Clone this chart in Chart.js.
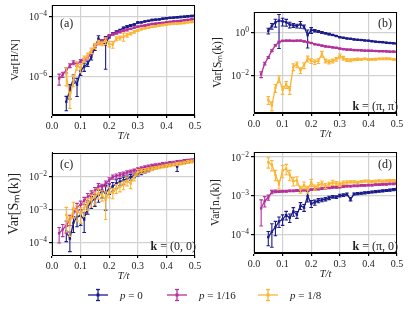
<!DOCTYPE html>
<html>
<head>
<meta charset="utf-8">
<script src="https://cdn.jsdelivr.net/npm/chart.js@4.4.0/dist/chart.umd.min.js"></script>
<style>
    body { margin: 0; background: #fff; width: 415px; height: 311px; overflow: hidden; position: relative; font-family: "Liberation Serif", serif; }
    canvas { position: absolute; }
    .leg { position: absolute; top: 288px; height: 14px; display: flex; align-items: center; font-size: 11px; color: #222; }
    .leg svg { margin-right: 12px; }
</style>
</head>
<body>
<canvas id="chartA" width="207" height="145" style="left:0;top:0"></canvas>
<canvas id="chartB" width="208" height="145" style="left:207px;top:0"></canvas>
<canvas id="chartC" width="207" height="145" style="left:0;top:140px"></canvas>
<canvas id="chartD" width="208" height="145" style="left:207px;top:140px"></canvas>

<div class="leg" style="left:88px">
    <svg width="20" height="14"><g stroke="#1b1b8a" stroke-width="1.3"><line x1="0" y1="7" x2="20" y2="7"/><line x1="10" y1="1.5" x2="10" y2="12.5"/><line x1="8" y1="1.5" x2="12" y2="1.5"/><line x1="8" y1="12.5" x2="12" y2="12.5"/></g><rect x="8.5" y="5.5" width="3" height="3" fill="#1b1b8a"/></svg>
    <span><i>p</i> = 0</span>
</div>
<div class="leg" style="left:167px">
    <svg width="20" height="14"><g stroke="#b4309b" stroke-width="1.3"><line x1="0" y1="7" x2="20" y2="7"/><line x1="10" y1="1.5" x2="10" y2="12.5"/><line x1="8" y1="1.5" x2="12" y2="1.5"/><line x1="8" y1="12.5" x2="12" y2="12.5"/></g><rect x="8.5" y="5.5" width="3" height="3" fill="#b4309b"/></svg>
    <span><i>p</i> = 1/16</span>
</div>
<div class="leg" style="left:258px">
    <svg width="20" height="14"><g stroke="#fbb535" stroke-width="1.3"><line x1="0" y1="7" x2="20" y2="7"/><line x1="10" y1="1.5" x2="10" y2="12.5"/><line x1="8" y1="1.5" x2="12" y2="1.5"/><line x1="8" y1="12.5" x2="12" y2="12.5"/></g><rect x="8.5" y="5.5" width="3" height="3" fill="#fbb535"/></svg>
    <span><i>p</i> = 1/8</span>
</div>

<script>
// temperatures T/t
const T = [0.025, 0.0375, 0.05, 0.0625, 0.075, 0.0875, 0.1, 0.1125, 0.125, 0.1375, 0.15, 0.1625, 0.175, 0.1875, 0.2, 0.2125, 0.225, 0.2375, 0.25, 0.2625, 0.275, 0.2875, 0.3, 0.3125, 0.325, 0.3375, 0.35, 0.3625, 0.375, 0.3875, 0.4, 0.4125, 0.425, 0.4375, 0.45, 0.4625, 0.475, 0.4875, 0.5];
const seriesNames = ["p = 0", "p = 1/16", "p = 1/8"];
const xTicks = [0, 0.1, 0.2, 0.3, 0.4, 0.5];

// (a) Var[H/N]
const aBlue = [null, null, 1.5e-7, 3.7e-7, 8.9e-7, 5.6e-7, 1.6e-6, 2.2e-6, 2.8e-6, 4.6e-6, 9.5e-6, 1.9e-5, 1.5e-5, 1.2e-5, 2.2e-5, 2.8e-5, 3.2e-5, 3.6e-5, 4.3e-5, 4.8e-5, 5.2e-5, 5.6e-5, 6.5e-5, 6.6e-5, 7.1e-5, 7.4e-5, 7.9e-5, 8.1e-5, 8.3e-5, 8.7e-5, 9.1e-5, 9.3e-5, 9.5e-5, 9.8e-5, 1.0e-4, 1.02e-4, 1.05e-4, 1.07e-4, 1.1e-4];
const aBlueErr = [0, 0, 0.5, 0.5, 0.3, 0.6, 0.3, 0.3, 0.2, 0.2, 0.2, 0.25, 0.15, 0.85, 0.1, 0.08, 0.08, 0.08, 0.08, 0.08, 0.08, 0.05, 0.05, 0.05, 0.05, 0.05, 0.05, 0.05, 0.05, 0.05, 0.05, 0.05, 0.05, 0.05, 0.05, 0.05, 0.05, 0.05, 0.05];
const aMag = [8.9e-7, 1.2e-6, 1.7e-6, 2.4e-6, 3.0e-6, 2.7e-6, 3.4e-6, 3.8e-6, 4.4e-6, 6.3e-6, 1.05e-5, 1.3e-5, 1.6e-5, 1.9e-5, 2.4e-5, 2.7e-5, 2.9e-5, 3.2e-5, 3.5e-5, 3.7e-5, 4.0e-5, 4.4e-5, 4.7e-5, 5.0e-5, 5.2e-5, 5.5e-5, 5.8e-5, 6.0e-5, 6.2e-5, 6.3e-5, 6.6e-5, 6.8e-5, 7.1e-5, 7.2e-5, 7.4e-5, 7.8e-5, 7.9e-5, 8.3e-5, 8.5e-5];
const aMagErr = [0.4, 0.2, 0.2, 0.15, 0.15, 0.15, 0.12, 0.1, 0.1, 0.1, 0.08, 0.08, 0.08, 0.08, 0.08, 0.08, 0.08, 0.08, 0.08, 0.08, 0.05, 0.05, 0.05, 0.05, 0.05, 0.05, 0.05, 0.05, 0.05, 0.05, 0.05, 0.05, 0.05, 0.05, 0.05, 0.05, 0.05, 0.05, 0.05];
const aYel = [null, null, 1.26e-6, 2.0e-7, 7.9e-7, 2.4e-6, 2.0e-6, 4.0e-6, 5.2e-6, 7.6e-6, 1.1e-5, 1.45e-5, 1.3e-5, 1.6e-5, 1.26e-5, 1.2e-5, 1.9e-5, 2.0e-5, 2.2e-5, 2.5e-5, 2.8e-5, 3.2e-5, 3.6e-5, 3.9e-5, 4.2e-5, 4.4e-5, 4.7e-5, 4.9e-5, 5.1e-5, 5.4e-5, 5.6e-5, 5.8e-5, 5.9e-5, 6.0e-5, 6.2e-5, 6.3e-5, 6.6e-5, 6.8e-5, 6.9e-5];
const aYelErr = [0, 0, 0.6, 0.55, 0.4, 0.3, 0.3, 0.25, 0.2, 0.2, 0.2, 0.15, 0.15, 0.25, 0.2, 0.25, 0.15, 0.15, 0.3, 0.15, 0.1, 0.1, 0.08, 0.05, 0.05, 0.05, 0.05, 0.05, 0.05, 0.05, 0.05, 0.05, 0.05, 0.05, 0.05, 0.05, 0.05, 0.05, 0.05];
const aTicks = [1e-6, 1e-4];

// (b) Var[S_m(k)], k = (pi, pi)
const bBlue = [null, null, 1.2, 2.0, 2.95, 3.55, 3.3, 3.0, 2.3, 2.15, 2.0, 2.4, 1.86, 0.74, 1.29, 1.2, 1.12, 1.0, 0.91, 0.83, 0.76, 0.68, 0.6, 0.56, 0.52, 0.5, 0.47, 0.45, 0.44, 0.42, 0.41, 0.39, 0.37, 0.355, 0.35, 0.33, 0.32, 0.31, 0.3];
const bBlueErr = [0, 0, 0.3, 0.3, 0.4, 0.95, 0.4, 0.35, 0.3, 0.2, 0.2, 0.35, 0.2, 0.75, 0.3, 0.12, 0.1, 0.1, 0.08, 0.08, 0.05, 0.05, 0.05, 0.05, 0.05, 0.05, 0.05, 0.05, 0.05, 0.05, 0.05, 0.05, 0.05, 0.05, 0.05, 0.05, 0.05, 0.05, 0.05];
const bMag = [0.011, 0.035, 0.068, 0.14, 0.25, 0.355, 0.4, 0.41, 0.41, 0.4, 0.41, 0.41, 0.38, 0.35, 0.32, 0.28, 0.26, 0.24, 0.22, 0.21, 0.2, 0.19, 0.175, 0.166, 0.158, 0.155, 0.15, 0.148, 0.145, 0.14, 0.14, 0.138, 0.135, 0.132, 0.132, 0.129, 0.126, 0.126, 0.123];
const bMagErr = [0.3, 0.15, 0.1, 0.1, 0.08, 0.08, 0.06, 0.06, 0.06, 0.06, 0.06, 0.06, 0.06, 0.06, 0.06, 0.06, 0.06, 0.06, 0.06, 0.06, 0.06, 0.06, 0.06, 0.06, 0.06, 0.06, 0.06, 0.06, 0.06, 0.06, 0.06, 0.06, 0.06, 0.06, 0.06, 0.06, 0.06, 0.06, 0.06];
const bYel = [null, null, 7.1e-4, 3.9e-4, 2.6e-3, 6.9e-3, 2.1e-3, 3.7e-3, 2.1e-3, 0.025, 0.032, 0.017, 0.029, 0.06, 0.047, 0.042, 0.047, 0.1, 0.047, 0.042, 0.047, 0.056, 0.078, 0.063, 0.052, 0.05, 0.054, 0.056, 0.055, 0.058, 0.054, 0.055, 0.056, 0.058, 0.058, 0.059, 0.058, 0.055, 0.054];
const bYelErr = [0, 0, 0.4, 0.45, 0.4, 0.35, 0.4, 0.35, 0.4, 0.35, 0.3, 0.3, 0.3, 0.3, 0.25, 0.25, 0.25, 0.3, 0.2, 0.2, 0.2, 0.2, 0.25, 0.2, 0.15, 0.15, 0.12, 0.12, 0.1, 0.1, 0.1, 0.1, 0.1, 0.1, 0.1, 0.1, 0.1, 0.1, 0.1];
const bTicks = [1e-2, 1];

// (c) Var[S_m(k)], k = (0, 0)
const cBlue = [null, null, 2.1e-4, 1.3e-4, 4.0e-4, 6.0e-4, 6.6e-4, 5.0e-4, 1.2e-3, 1.8e-3, 2.1e-3, 2.8e-3, 3.8e-3, 3.2e-3, 4.5e-3, 5.2e-3, 6.3e-3, 7.2e-3, 7.9e-3, 8.9e-3, 1.0e-2, 1.12e-2, 1.26e-2, 1.38e-2, 1.51e-2, 1.66e-2, 1.82e-2, 1.95e-2, 2.1e-2, 2.2e-2, 2.3e-2, 2.45e-2, 2.5e-2, 2.1e-2, 2.75e-2, 2.9e-2, 3.0e-2, 3.16e-2, 3.3e-2];
const cBlueErr = [0, 0, 0.5, 0.6, 0.5, 0.5, 0.5, 0.6, 0.4, 0.4, 0.4, 0.4, 0.4, 0.7, 0.35, 0.3, 0.3, 0.25, 0.25, 0.2, 0.2, 0.15, 0.15, 0.15, 0.12, 0.12, 0.1, 0.1, 0.1, 0.1, 0.1, 0.1, 0.1, 0.3, 0.1, 0.1, 0.1, 0.1, 0.1];
const cMag = [1.9e-4, 2.5e-4, 3.2e-4, 5.0e-4, 7.9e-4, 1.2e-3, 1.4e-3, 1.9e-3, 2.5e-3, 3.0e-3, 3.8e-3, 5.2e-3, 5.0e-3, 6.3e-3, 7.9e-3, 1.0e-2, 1.07e-2, 1.17e-2, 1.26e-2, 1.38e-2, 1.48e-2, 1.58e-2, 1.74e-2, 1.86e-2, 2.0e-2, 2.1e-2, 2.2e-2, 2.3e-2, 2.4e-2, 2.5e-2, 2.57e-2, 2.7e-2, 2.75e-2, 2.9e-2, 2.95e-2, 3.1e-2, 3.16e-2, 3.2e-2, 3.3e-2];
const cMagErr = [0.5, 0.4, 0.4, 0.35, 0.3, 0.3, 0.3, 0.25, 0.25, 0.25, 0.25, 0.2, 0.2, 0.2, 0.2, 0.15, 0.15, 0.15, 0.12, 0.12, 0.1, 0.1, 0.1, 0.1, 0.1, 0.1, 0.1, 0.1, 0.1, 0.1, 0.1, 0.1, 0.1, 0.1, 0.1, 0.1, 0.1, 0.1, 0.1];
const cYel = [null, null, 6.9e-4, 3.8e-4, 1.12e-3, 8.9e-4, 7.6e-4, 1.12e-3, 1.58e-3, 2.0e-3, 2.5e-3, 3.2e-3, 2.8e-3, 2.0e-3, 3.5e-3, 3.3e-3, 4.5e-3, 5.0e-3, 5.8e-3, 7.6e-3, 6.3e-3, 1.0e-2, 1.41e-2, 1.51e-2, 1.58e-2, 1.7e-2, 1.78e-2, 1.9e-2, 2.0e-2, 2.1e-2, 2.2e-2, 2.3e-2, 2.4e-2, 2.5e-2, 2.6e-2, 2.75e-2, 2.9e-2, 3.0e-2, 3.16e-2];
const cYelErr = [0, 0, 0.7, 0.6, 0.5, 0.5, 0.5, 0.45, 0.4, 0.4, 0.4, 0.35, 0.35, 0.75, 0.35, 0.35, 0.3, 0.3, 0.3, 0.3, 0.3, 0.25, 0.2, 0.15, 0.15, 0.12, 0.12, 0.1, 0.1, 0.1, 0.1, 0.1, 0.1, 0.1, 0.1, 0.1, 0.1, 0.1, 0.1];
const cTicks = [1e-4, 1e-3, 1e-2];

// (d) Var[n_+(k)], k = (pi, 0)
const dBlue = [null, null, 8.7e-5, 1.2e-4, 1.58e-4, 2.2e-4, 2.5e-4, 3.2e-4, 2.75e-4, 4.0e-4, 3.3e-4, 5.6e-4, 5.0e-4, 1.0e-3, 6.3e-4, 6.8e-4, 7.6e-4, 7.9e-4, 8.3e-4, 8.9e-4, 9.5e-4, 9.3e-4, 1.02e-3, 1.05e-3, 1.1e-3, 8.3e-4, 1.12e-3, 1.15e-3, 1.17e-3, 1.2e-3, 1.23e-3, 1.26e-3, 1.29e-3, 1.32e-3, 1.35e-3, 1.38e-3, 1.41e-3, 1.45e-3, 1.48e-3];
const dBlueErr = [0, 0, 0.4, 0.6, 0.4, 0.3, 0.3, 0.25, 0.25, 0.25, 0.2, 0.2, 0.2, 0.3, 0.2, 0.15, 0.12, 0.1, 0.1, 0.1, 0.08, 0.08, 0.08, 0.08, 0.08, 0.1, 0.06, 0.06, 0.06, 0.06, 0.06, 0.06, 0.06, 0.06, 0.06, 0.06, 0.06, 0.06, 0.06];
const dMag = [4.8e-4, 7.4e-4, 9.1e-4, 1.26e-3, 1.32e-3, 1.29e-3, 1.32e-3, 1.32e-3, 1.35e-3, 1.35e-3, 1.38e-3, 1.38e-3, 1.41e-3, 1.41e-3, 1.45e-3, 1.48e-3, 1.51e-3, 1.55e-3, 1.58e-3, 1.62e-3, 1.66e-3, 1.66e-3, 1.7e-3, 1.74e-3, 1.78e-3, 1.78e-3, 1.82e-3, 1.82e-3, 1.86e-3, 1.86e-3, 1.9e-3, 1.9e-3, 1.95e-3, 1.95e-3, 2.0e-3, 2.0e-3, 2.04e-3, 2.04e-3, 2.1e-3];
const dMagErr = [0.65, 0.3, 0.15, 0.1, 0.08, 0.05, 0.05, 0.05, 0.05, 0.05, 0.05, 0.05, 0.05, 0.05, 0.05, 0.05, 0.05, 0.05, 0.05, 0.05, 0.05, 0.05, 0.05, 0.05, 0.05, 0.05, 0.05, 0.05, 0.05, 0.05, 0.05, 0.05, 0.05, 0.05, 0.05, 0.05, 0.05, 0.05, 0.05];
const dYel = [null, null, 7.4e-3, 6.3e-3, 3.5e-3, 2.0e-3, 4.5e-3, 5.0e-3, 3.5e-3, 2.4e-3, 2.5e-3, 1.48e-3, 1.9e-3, 1.48e-3, 2.2e-3, 1.66e-3, 1.9e-3, 2.1e-3, 1.82e-3, 2.0e-3, 2.2e-3, 2.1e-3, 2.0e-3, 2.2e-3, 2.24e-3, 2.3e-3, 2.3e-3, 2.24e-3, 2.34e-3, 2.4e-3, 2.4e-3, 2.34e-3, 2.4e-3, 2.45e-3, 2.4e-3, 2.45e-3, 2.5e-3, 2.5e-3, 2.5e-3];
const dYelErr = [0, 0, 0.3, 0.3, 0.3, 0.25, 0.35, 0.3, 0.3, 0.25, 0.25, 0.2, 0.2, 0.2, 0.2, 0.15, 0.15, 0.15, 0.15, 0.12, 0.15, 0.12, 0.12, 0.1, 0.1, 0.06, 0.06, 0.06, 0.06, 0.06, 0.06, 0.06, 0.06, 0.06, 0.06, 0.06, 0.06, 0.06, 0.06];
const dTicks = [1e-4, 1e-3, 1e-2];

const colors = ["#1b1b8a", "#b4309b", "#fbb535"];
const FONT = "'Liberation Serif', 'Times New Roman', serif";

function toPoints(vals, errs) {
    var pts = [];
    T.forEach(function (t, i) {
        if (vals[i] != null) pts.push({ x: t, y: vals[i], e: errs[i] });
    });
    return pts;
}

// error bars drawn right after each dataset
const errorBars = {
    id: "errorBars",
    afterDatasetDraw(chart, args) {
        const ds = chart.data.datasets[args.index];
        const ys = chart.scales.y;
        const a = chart.chartArea;
        const ctx = chart.ctx;
        ctx.save();
        ctx.beginPath();
        ctx.rect(a.left, a.top, a.right - a.left, a.bottom - a.top);
        ctx.clip();
        ctx.strokeStyle = ds.borderColor;
        ctx.lineWidth = 1.1;
        args.meta.data.forEach(function (pt, i) {
            const d = ds.data[i];
            if (!d.e) return;
            const hi = ys.getPixelForValue(d.y * (1 + d.e));
            const lo = d.e < 1 ? ys.getPixelForValue(d.y * (1 - d.e)) : a.bottom + 5;
            ctx.beginPath();
            ctx.moveTo(pt.x, hi); ctx.lineTo(pt.x, lo);
            ctx.moveTo(pt.x - 1.8, hi); ctx.lineTo(pt.x + 1.8, hi);
            ctx.moveTo(pt.x - 1.8, lo); ctx.lineTo(pt.x + 1.8, lo);
            ctx.stroke();
        });
        ctx.restore();
    }
};

// frame, 10^n tick labels, panel tag, k label
const panelDecor = {
    id: "panelDecor",
    afterDraw(chart, args, opts) {
        const a = chart.chartArea;
        const ctx = chart.ctx;
        const ys = chart.scales.y;
        ctx.save();
        ctx.strokeStyle = "#000";
        ctx.lineWidth = 1;
        ctx.strokeRect(Math.round(a.left) + 0.5, Math.round(a.top) + 0.5, Math.round(a.right - a.left) - 1, Math.round(a.bottom - a.top) - 1);

        ctx.fillStyle = "#222";
        ctx.textBaseline = "alphabetic";

        // y tick labels as 10 with raised exponent
        ys.ticks.forEach(function (t) {
            const py = ys.getPixelForValue(t.value);
            const ex = "\u2212" + String(Math.abs(Math.round(Math.log10(t.value))));
            const e = Math.round(Math.log10(t.value));
            const expText = e < 0 ? ex : String(e);
            ctx.font = "7.5px " + FONT;
            const we = ctx.measureText(expText).width;
            ctx.font = "10px " + FONT;
            const wb = ctx.measureText("10").width;
            const xr = a.left - 5;
            ctx.textAlign = "left";
            ctx.fillText("10", xr - we - wb, py + 3.5);
            ctx.font = "7.5px " + FONT;
            ctx.fillText(expText, xr - we, py - 0.5);
        });

        ctx.font = "12px " + FONT;
        if (opts.tagSide === "left") {
            ctx.textAlign = "left";
            ctx.fillText(opts.tag, a.left + 8, a.top + opts.tagDy);
        } else {
            ctx.textAlign = "right";
            ctx.fillText(opts.tag, a.right - 5, a.top + opts.tagDy);
        }
        if (opts.k) {
            ctx.textAlign = "left";
            ctx.font = "bold 12px " + FONT;
            const wk = ctx.measureText("k").width;
            ctx.font = "12px " + FONT;
            const rest = " = " + opts.k;
            const wr = ctx.measureText(rest).width;
            const x0 = a.right + 1 - wk - wr;
            const yb = a.bottom - opts.kDy;
            ctx.font = "bold 12px " + FONT;
            ctx.fillText("k", x0, yb);
            ctx.font = "12px " + FONT;
            ctx.fillText(rest, x0 + wk, yb);
        }
        ctx.restore();
    }
};

function buildPanel(id, p) {
    const datasets = p.series.map(function (s, i) {
        return {
            label: seriesNames[i],
            data: toPoints(s.vals, s.errs),
            borderColor: colors[i],
            backgroundColor: colors[i],
            borderWidth: 1.3,
            pointStyle: "rect",
            pointRadius: 1.7,
            pointBorderWidth: 0,
            pointBackgroundColor: colors[i],
            tension: 0,
            order: 2 - i
        };
    });

    new Chart(document.getElementById(id), {
        type: "line",
        data: { datasets: datasets },
        plugins: [errorBars, panelDecor],
        options: {
            responsive: false,
            animation: false,
            layout: { padding: p.padding },
            plugins: {
                legend: { display: false },
                tooltip: { enabled: false },
                panelDecor: { tag: p.tag, tagSide: p.tagSide, tagDy: p.tagDy, k: p.k, kDy: p.kDy }
            },
            scales: {
                x: {
                    type: "linear",
                    min: 0,
                    max: 0.5,
                    afterBuildTicks: s => { s.ticks = xTicks.map(v => ({ value: v })); },
                    afterFit: s => { s.height = 30; },
                    ticks: {
                        callback: v => v.toFixed(1),
                        font: { family: FONT, size: 10 },
                        color: "#222",
                        padding: 2,
                        maxRotation: 0
                    },
                    grid: { color: "#d2d2d2", lineWidth: 1.2, tickColor: "#000", tickLength: 3 },
                    border: { color: "#000", width: 1 },
                    title: {
                        display: true,
                        text: "T/t",
                        font: { family: FONT, size: 10.5, style: "italic" },
                        color: "#222",
                        padding: { top: 0, bottom: 2 }
                    }
                },
                y: {
                    type: "logarithmic",
                    min: p.yMin,
                    max: p.yMax,
                    afterBuildTicks: s => { s.ticks = p.yTicks.map(v => ({ value: v })); },
                    afterFit: s => { s.width = p.yWidth; },
                    ticks: { display: false },
                    grid: { color: "#d2d2d2", lineWidth: 1.2, tickColor: "#000", tickLength: 3 },
                    border: { color: "#000", width: 1 },
                    title: {
                        display: true,
                        text: p.yTitle,
                        font: { family: FONT, size: p.yTitleSize },
                        color: "#222",
                        padding: { top: p.yTitlePad, bottom: 0 }
                    }
                }
            }
        }
    });
}

buildPanel("chartA", {
    series: [{ vals: aBlue, errs: aBlueErr }, { vals: aMag, errs: aMagErr }, { vals: aYel, errs: aYelErr }],
    yMin: 5.4e-8, yMax: 2.5e-4, yTicks: aTicks,
    yTitle: "Var[H/N]", yTitleSize: 11, yTitlePad: 8.4, yWidth: 52,
    padding: { left: 0, right: 12, top: 5, bottom: 0 },
    tag: "(a)", tagSide: "left", tagDy: 22
});

buildPanel("chartB", {
    series: [{ vals: bBlue, errs: bBlueErr }, { vals: bMag, errs: bMagErr }, { vals: bYel, errs: bYelErr }],
    yMin: 1.7e-4, yMax: 9, yTicks: bTicks,
    yTitle: "Var[S\u2098(k)]", yTitleSize: 11.5, yTitlePad: 4.1, yWidth: 47,
    padding: { left: 0, right: 18, top: 12, bottom: 2 },
    tag: "(b)", tagSide: "right", tagDy: 15,
    k: "(\u03C0, \u03C0)", kDy: 3
});

buildPanel("chartC", {
    series: [{ vals: cBlue, errs: cBlueErr }, { vals: cMag, errs: cMagErr }, { vals: cYel, errs: cYelErr }],
    yMin: 4.1e-5, yMax: 5.6e-2, yTicks: cTicks,
    yTitle: "Var[S\u2098(k)]", yTitleSize: 14, yTitlePad: 5.6, yWidth: 52,
    padding: { left: 0, right: 12, top: 12.5, bottom: 0 },
    tag: "(c)", tagSide: "left", tagDy: 15.5,
    k: "(0, 0)", kDy: 5
});

buildPanel("chartD", {
    series: [{ vals: dBlue, errs: dBlueErr }, { vals: dMag, errs: dMagErr }, { vals: dYel, errs: dYelErr }],
    yMin: 3.4e-5, yMax: 1.35e-2, yTicks: dTicks,
    yTitle: "Var[n\u208A(k)]", yTitleSize: 11.5, yTitlePad: 2.1, yWidth: 47,
    padding: { left: 0, right: 18, top: 12, bottom: 2 },
    tag: "(d)", tagSide: "right", tagDy: 16,
    k: "(\u03C0, 0)", kDy: 3
});
</script>
</body>
</html>
